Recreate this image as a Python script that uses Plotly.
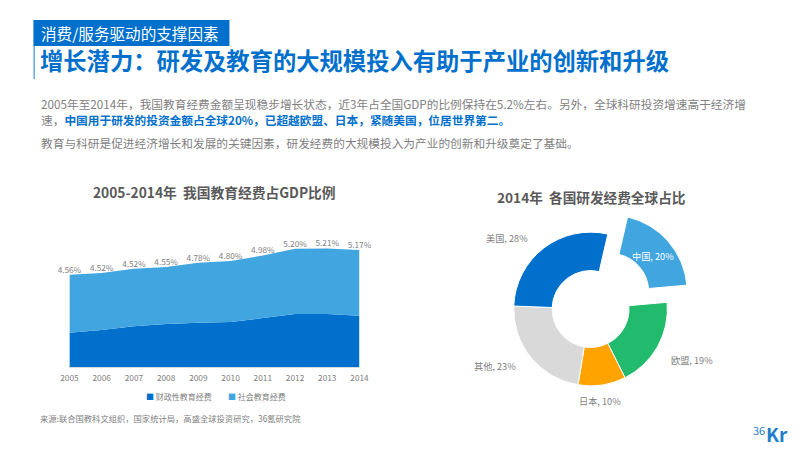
import plotly.graph_objects as go

# area chart
years = ["2005", "2006", "2007", "2008", "2009", "2010", "2011", "2012", "2013", "2014"]
fiscal = [1.51, 1.63, 1.79, 1.89, 1.94, 1.98, 2.15, 2.33, 2.33, 2.25]
other = [2.54, 2.50, 2.53, 2.50, 2.64, 2.68, 2.75, 2.87, 2.88, 2.89]
ratio_labels = ["4.56%", "4.52%", "4.52%", "4.55%", "4.78%", "4.80%", "4.98%", "5.20%", "5.21%", "5.17%"]
series_names = ["财政性教育经费", "社会教育经费"]

# donut
countries = ["中国", "欧盟", "日本", "其他", "美国"]
shares = [20, 19, 10, 23, 28]
share_colors = ["#41A5E0", "#22BB6E", "#FFA300", "#D9D9D9", "#0070CC"]

W, H = 800, 450
SCALE = 0.976  # the paper comes out a little narrower than the window, centred
FONT = "Noto Sans CJK SC"
GRAY = "#7F7F7F"
BLUE = "#0070CC"
LIGHT = "#41A5E0"


def px(x):
    return (W / 2 + (x - W / 2) / SCALE) / W


def py(y):
    return 1 - y / H


def label(x, y, text, size, color=GRAY, anchor="left"):
    return dict(x=px(x), y=py(y), xref="paper", yref="paper", text=text, showarrow=False,
                xanchor=anchor, yanchor="middle", font=dict(size=size, color=color, family=FONT))


fig = go.Figure()
fig.add_trace(go.Scatter(x=years, y=fiscal, name=series_names[0], mode="lines", stackgroup="edu",
                         line=dict(width=0, color=BLUE), fillcolor=BLUE, showlegend=False))
fig.add_trace(go.Scatter(x=years, y=other, name=series_names[1], mode="lines", stackgroup="edu",
                         line=dict(width=0, color=LIGHT), fillcolor=LIGHT, showlegend=False))
fig.add_trace(go.Scatter(x=years, y=[a + b for a, b in zip(fiscal, other)], mode="text",
                         text=ratio_labels, textposition="top center", showlegend=False,
                         textfont=dict(size=8.2, color=GRAY), cliponaxis=False))
fig.add_trace(go.Pie(labels=countries, values=shares, sort=False, direction="clockwise", rotation=13,
                     hole=0.5, pull=[0.34, 0, 0, 0, 0], showlegend=False, textinfo="none",
                     marker=dict(colors=share_colors, line=dict(color="white", width=1)),
                     domain=dict(x=[px(488), px(694)], y=[py(412), py(206)])))

notes = [
    label(40, 33, "消费/服务驱动的支撑因素", 15.6, "white"),
    label(39, 60, "<b>增长潜力：研发及教育的大规模投入有助于产业的创新和升级</b>", 23.3, BLUE),
    label(40, 103, "2005年至2014年，我国教育经费金额呈现稳步增长状态，近3年占全国GDP的比例保持在5.2%左右。另外，全球科研投资增速高于经济增", 11.7),
    label(40, 120, "速，<b><span style='color:#0070CC'>中国用于研发的投资金额占全球20%，已超越欧盟、日本，紧随美国，位居世界第二。</span></b>", 11.7),
    label(40, 142, "教育与科研是促进经济增长和发展的关键因素，研发经费的大规模投入为产业的创新和升级奠定了基础。", 11.7),
    label(215, 192, "<b>2005-2014年  我国教育经费占GDP比例</b>", 13.75, "#595959", "center"),
    label(592, 197, "<b>2014年  各国研发经费全球占比</b>", 13.65, "#595959", "center"),
    label(145, 396, f"<span style='color:{BLUE}'>■</span> {series_names[0]}", 8),
    label(227, 396, f"<span style='color:{LIGHT}'>■</span> {series_names[1]}", 8),
    label(39, 418, "来源:联合国教科文组织，国家统计局，高盛全球投资研究，36氪研究院", 8.3),
    label(767, 430, "36", 11, "#1F7FC8", "right"),
    label(764, 433, "<b>Kr</b>", 19, "#1F7FC8"),
]
# donut labels sit at fixed spots around the ring
for name, share, pos, col in zip(countries, shares,
                                 [(653, 256), (692, 360), (600, 401), (495, 366), (507, 238)],
                                 ["white", GRAY, GRAY, GRAY, GRAY]):
    notes.append(label(pos[0], pos[1], f"{name}, {share}%", 9.2, col, "center"))

fig.update_layout(
    margin=dict(l=0, r=0, t=0, b=0),
    paper_bgcolor="white", plot_bgcolor="white",
    font=dict(family=FONT, color=GRAY),
    xaxis=dict(domain=[px(70), px(360)], range=[0, 9], type="category", showgrid=False,
               showline=True, linecolor="#D9D9D9", ticks="outside", ticklen=3, tickcolor="white",
               tickfont=dict(size=8.3, color=GRAY)),
    yaxis=dict(domain=[py(367), py(210)], range=[0, 6.9], visible=False),
    shapes=[
        dict(type="rect", xref="paper", yref="paper", x0=px(34), x1=px(230), y0=py(46), y1=py(20),
             fillcolor=BLUE, line_width=0),
        dict(type="rect", xref="paper", yref="paper", x0=px(34), x1=px(35.5), y0=py(79), y1=py(46),
             fillcolor="#5BA8E6", line_width=0),
    ],
    annotations=notes,
)

# page margin would push the figure out of the window
fig.write_html("out.html", config=dict(displayModeBar=False), default_width="800px", default_height="450px",
               post_script="document.body.style.margin='0';")
